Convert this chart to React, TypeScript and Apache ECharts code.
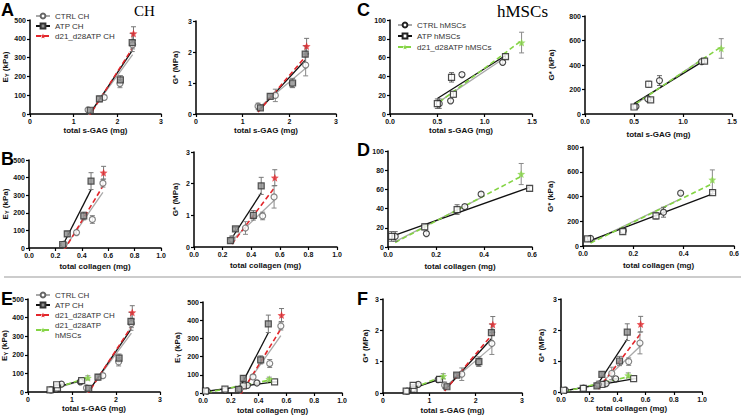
import React, { useEffect, useRef } from "react";
import * as echarts from "echarts";

// ---------- CH data ----------
const chCtrlSGAG = [1.33, 1.7, 2.06, 2.35];
const chAtpSGAG = [1.38, 1.59, 2.07, 2.34];
const chD21SGAG = [2.37];
const chCtrlColl = [0.265, 0.36, 0.48, 0.56];
const chAtpColl = [0.255, 0.29, 0.415, 0.47];
const chD21Coll = [0.565];
const chCtrlEY = [22, 88, 162, 368];
const chAtpEY = [20, 80, 182, 380];
const chD21EY = [428];
const chCtrlEYErr = [6, 12, 22, 22];
const chAtpEYErr = [5, 15, 22, 48];
const chD21EYErr = [36];
const chCtrlG = [0.25, 0.6, 0.98, 1.58];
const chAtpG = [0.2, 0.57, 1.0, 1.93];
const chD21G = [2.19];
const chCtrlGErr = [0.1, 0.2, 0.12, 0.35];
const chAtpGErr = [0.05, 0.05, 0.15, 0.27];
const chD21GErr = [0.25];

// ---------- hMSC data ----------
const msCtrlSGAG = [0.52, 0.64, 0.76, 1.19];
const msAtpSGAG = [0.5, 0.67, 0.65, 1.22];
const msD21SGAG = [1.36];
const msCtrlColl = [0.03, 0.16, 0.32, 0.388];
const msAtpColl = [0.018, 0.158, 0.29, 0.515];
const msD21Coll = [0.477];
const msCtrlEY = [11, 14, 42, 55];
const msAtpEY = [11, 21, 39, 61];
const msD21EY = [76];
const msCtrlEYErr = [5, 2, 2, 2];
const msAtpEYErr = [5, 3, 5, 2];
const msD21EYErr = [11];
const msCtrlG = [62, 124, 273, 427];
const msAtpG = [57, 116, 243, 432];
const msD21G = [535];
const msCtrlGErr = [10, 10, 40, 10];
const msAtpGErr = [10, 10, 25, 10];
const msD21GErr = [80];

// x positions as plotted in individual panels where they differ
const msD21SGAG_C = [1.39];
const msD21SGAG_F = [1.3];
const msAtpColl_Dleft = [0.015, 0.153, 0.288, 0.59];
const msD21Coll_Dleft = [0.555];
const msD21Coll_Dright = [0.514];

const FONT = "'Liberation Sans', Arial, sans-serif";
const SERIF = "'Liberation Serif', 'Times New Roman', serif";
const RED = "#e3262b";
const GREEN = "#84d444";
const STAR = "path://M0,-10L2.6,-3.6L9.5,-3.1L4.2,1.4L5.9,8.1L0,4.4L-5.9,8.1L-4.2,1.4L-9.5,-3.1L-2.6,-3.6Z";

const STYLES: Record<string, any> = {
  ctrlCH: { symbol: "circle", size: 6, item: { color: "#fff", borderColor: "#666", borderWidth: 1.2 }, line: { color: "#a9a9a9", width: 1.3, type: "solid" }, err: "#888" },
  atpCH: { symbol: "rect", size: 6, item: { color: "#8f8f8f", borderColor: "#333", borderWidth: 1.2 }, line: { color: "#111", width: 1.3, type: "solid" }, err: "#777" },
  d21CH: { symbol: STAR, size: 8, item: { color: RED }, line: { color: RED, width: 1.6, type: [5, 3] }, err: "#777" },
  ctrlMS: { symbol: "circle", size: 6, item: { color: "#fff", borderColor: "#222", borderWidth: 1.2 }, line: { color: "#a9a9a9", width: 1.3, type: "solid" }, err: "#666" },
  atpMS: { symbol: "rect", size: 6, item: { color: "#fff", borderColor: "#222", borderWidth: 1.2 }, line: { color: "#111", width: 1.3, type: "solid" }, err: "#666" },
  d21MS: { symbol: STAR, size: 8, item: { color: GREEN }, line: { color: GREEN, width: 1.6, type: [5, 3] }, err: "#888" },
};

const CH = {
  ctrl: { sgag: chCtrlSGAG, coll: chCtrlColl, ey: chCtrlEY, eyErr: chCtrlEYErr, g: chCtrlG, gErr: chCtrlGErr },
  atp: { sgag: chAtpSGAG, coll: chAtpColl, ey: chAtpEY, eyErr: chAtpEYErr, g: chAtpG, gErr: chAtpGErr },
  d21: { sgag: chD21SGAG, coll: chD21Coll, ey: chD21EY, eyErr: chD21EYErr, g: chD21G, gErr: chD21GErr },
};
const MS = {
  ctrl: { sgag: msCtrlSGAG, coll: msCtrlColl, ey: msCtrlEY, eyErr: msCtrlEYErr, g: msCtrlG, gErr: msCtrlGErr },
  atp: { sgag: msAtpSGAG, coll: msAtpColl, ey: msAtpEY, eyErr: msAtpEYErr, g: msAtpG, gErr: msAtpGErr },
  d21: { sgag: msD21SGAG, coll: msD21Coll, ey: msD21EY, eyErr: msD21EYErr, g: msD21G, gErr: msD21GErr },
};

function lsq(xs: number[], ys: number[]) {
  const n = xs.length;
  const mx = xs.reduce((a, b) => a + b, 0) / n;
  const my = ys.reduce((a, b) => a + b, 0) / n;
  let sxx = 0, sxy = 0;
  for (let i = 0; i < n; i++) { sxx += (xs[i] - mx) ** 2; sxy += (xs[i] - mx) * (ys[i] - my); }
  const b = sxy / sxx; const a = my - b * mx;
  const x0 = Math.min(...xs), x1 = Math.max(...xs);
  return [[x0, a + b * x0], [x1, a + b * x1]];
}

function groups(src: any, kind: "CH" | "MS", xKey: string, yKey: string, scale: number, xOver: Record<string, number[]> = {}) {
  const names = kind === "CH" ? ["CTRL CH", "ATP CH", "d21_d28ATP CH"] : ["CTRL hMSCs", "ATP hMSCs", "d21_d28ATP hMSCs"];
  const keys = ["ctrl", "atp", "d21"];
  const xOf = (k: string) => xOver[k] || src[k][xKey];
  return keys.map((k, i) => {
    const s = src[k];
    const xs = xOf(k);
    const ys = s[yKey].map((v: number) => v * scale);
    const errs = s[yKey + "Err"].map((v: number) => v * scale);
    let fx = xs, fy = ys;
    if (k === "d21") {
      fx = [...xOf("ctrl").slice(0, 3), ...xs];
      fy = [...src.ctrl[yKey].slice(0, 3).map((v: number) => v * scale), ...ys];
    }
    return { name: names[i], style: STYLES[k + kind], xs, ys, errs, fitXs: fx, fitYs: fy };
  });
}

const errRender = (color: string) => (params: any, api: any) => {
  const x = api.value(0), y = api.value(1), e = api.value(2);
  const t = api.coord([x, y + e]);
  const b = api.coord([x, y - e]);
  const w = 2.5;
  const st = { stroke: color, lineWidth: 1 };
  return {
    type: "group",
    children: [
      { type: "line", shape: { x1: t[0], y1: t[1], x2: b[0], y2: b[1] }, style: st },
      { type: "line", shape: { x1: t[0] - w, y1: t[1], x2: t[0] + w, y2: t[1] }, style: st },
      { type: "line", shape: { x1: b[0] - w, y1: b[1], x2: b[0] + w, y2: b[1] }, style: st },
    ],
  };
};

const EY_NAME = "{a|E}{s|Y}{a| (kPa)}";

const PANELS: any[] = [
  // A left
  { grid: [30, 20, 131, 94], x: [0, 3, 1, 0], y: [0, 500, 100], xName: "total s-GAG (mg)", yName: EY_NAME, xGap: 12, yGap: 20, groups: () => groups(CH, "CH", "sgag", "ey", 1) },
  // A right
  { grid: [196, 21, 140, 93], x: [0, 3, 1, 0], y: [0, 3, 1], xName: "total s-GAG (mg)", yName: "G* (MPa)", xGap: 12, yGap: 17, groups: () => groups(CH, "CH", "sgag", "g", 1) },
  // C left
  { grid: [390, 20, 142, 94], x: [0, 1.5, 0.5, 1], y: [0, 100, 20], xName: "total s-GAG (mg)", yName: "", xGap: 12, yGap: 12, groups: () => groups(MS, "MS", "sgag", "ey", 1, { d21: msD21SGAG_C }) },
  // C right
  { grid: [585, 16, 147, 98], x: [0, 1.5, 0.5, 1], y: [0, 800, 200], xName: "total s-GAG (mg)", yName: "G* (kPa)", xGap: 16, yGap: 30, groups: () => groups(MS, "MS", "sgag", "g", 1, { d21: msD21SGAG_C }) },
  // B left
  { grid: [29, 160, 132, 88], x: [0, 1, 0.2, 1], y: [0, 500, 100], xName: "total collagen (mg)", yName: EY_NAME, xGap: 14, yGap: 19, groups: () => groups(CH, "CH", "coll", "ey", 1) },
  // B right
  { grid: [194, 152, 143, 95], x: [0, 1, 0.2, 1], y: [0, 3, 1], xName: "total collagen (mg)", yName: "G* (MPa)", xGap: 14, yGap: 15, groups: () => groups(CH, "CH", "coll", "g", 1) },
  // D left
  { grid: [388, 151, 144, 96], x: [0, 0.6, 0.2, 1], y: [0, 100, 20], xName: "total collagen (mg)", yName: "", xGap: 15, yGap: 12, groups: () => groups(MS, "MS", "coll", "ey", 1, { atp: msAtpColl_Dleft, d21: msD21Coll_Dleft }) },
  // D right
  { grid: [583, 147, 151, 99], x: [0, 0.6, 0.2, 1], y: [0, 800, 200], xName: "total collagen (mg)", yName: "G* (kPa)", xGap: 15, yGap: 29, groups: () => groups(MS, "MS", "coll", "g", 1, { d21: msD21Coll_Dright }) },
  // E left
  { grid: [28, 299, 132, 93], x: [0, 3, 1, 0], y: [0, 500, 100], xName: "total s-GAG (mg)", yName: EY_NAME, xGap: 12, yGap: 19, groups: () => [...groups(MS, "MS", "sgag", "ey", 1), ...groups(CH, "CH", "sgag", "ey", 1)] },
  // E right
  { grid: [203, 302, 139, 91], x: [0, 1, 0.2, 1], y: [0, 500, 100], xName: "total collagen (mg)", yName: EY_NAME, xGap: 13, yGap: 21, groups: () => [...groups(MS, "MS", "coll", "ey", 1), ...groups(CH, "CH", "coll", "ey", 1)] },
  // F left
  { grid: [383, 299, 139, 94], x: [0, 3, 1, 0], y: [0, 3, 1], xName: "total s-GAG (mg)", yName: "G* (MPa)", xGap: 13, yGap: 14, groups: () => [...groups(MS, "MS", "sgag", "g", 0.001, { d21: msD21SGAG_F }), ...groups(CH, "CH", "sgag", "g", 1)] },
  // F right
  { grid: [561, 299, 141, 93], x: [0, 1, 0.2, 1], y: [0, 3, 1], xName: "total collagen (mg)", yName: "G* (MPa)", xGap: 12, yGap: 16, groups: () => [...groups(MS, "MS", "coll", "g", 0.001), ...groups(CH, "CH", "coll", "g", 1)] },
];

function buildOption() {
  const grid: any[] = [], xAxis: any[] = [], yAxis: any[] = [], series: any[] = [];
  const axisLine = { show: true, lineStyle: { color: "#000", width: 1.5 } };
  const axisTick = { show: true, length: 3, lineStyle: { color: "#000", width: 1.2 } };
  const labelBase = { fontSize: 7, fontWeight: "bold", color: "#111", fontFamily: FONT, margin: 4 };
  const nameStyle = {
    fontSize: 8, fontWeight: "bold", color: "#111", fontFamily: FONT,
    rich: {
      a: { fontSize: 8, fontWeight: "bold", color: "#111", fontFamily: FONT },
      s: { fontSize: 5.5, fontWeight: "bold", color: "#111", fontFamily: FONT, padding: [4, 0, 0, 0] },
    },
  };
  PANELS.forEach((p, gi) => {
    const [l, t, w, h] = p.grid;
    grid.push({ left: l, top: t, width: w, height: h, containLabel: false, outerBoundsMode: "none" });
    const dec = p.x[3];
    xAxis.push({
      gridIndex: gi, type: "value", min: p.x[0], max: p.x[1], interval: p.x[2],
      axisLine, axisTick, splitLine: { show: false },
      axisLabel: { ...labelBase, formatter: (v: number) => v.toFixed(dec) },
      name: p.xName, nameLocation: "middle", nameGap: p.xGap, nameMoveOverlap: false,
      nameTextStyle: { ...nameStyle, verticalAlign: "top" },
    });
    yAxis.push({
      gridIndex: gi, type: "value", min: p.y[0], max: p.y[1], interval: p.y[2],
      axisLine, axisTick, splitLine: { show: false },
      axisLabel: { ...labelBase },
      name: p.yName, nameLocation: "middle", nameRotate: 90, nameGap: p.yGap, nameMoveOverlap: false,
      nameTextStyle: nameStyle,
    });
    const gs = p.groups();
    gs.forEach((g: any) => {
      const st = g.style;
      series.push({
        type: "line", name: g.name, xAxisIndex: gi, yAxisIndex: gi,
        data: lsq(g.fitXs, g.fitYs), symbol: st.symbol, symbolSize: st.size, showSymbol: false,
        itemStyle: st.item, lineStyle: st.line, z: 2, silent: true, clip: true,
        emphasis: { disabled: true },
      });
    });
    gs.forEach((g: any) => {
      series.push({
        type: "custom", xAxisIndex: gi, yAxisIndex: gi, coordinateSystem: "cartesian2d",
        data: g.xs.map((x: number, i: number) => [x, g.ys[i], g.errs[i]]),
        encode: { x: 0, y: 1 }, renderItem: errRender(g.style.err), z: 3, silent: true, clip: true,
      });
    });
    gs.forEach((g: any) => {
      const st = g.style;
      series.push({
        type: "scatter", xAxisIndex: gi, yAxisIndex: gi,
        data: g.xs.map((x: number, i: number) => [x, g.ys[i]]),
        symbol: st.symbol, symbolSize: st.size, itemStyle: st.item, z: 4, silent: true,
      });
    });
  });

  const legendBase = {
    orient: "vertical", itemGap: 0, itemWidth: 14, itemHeight: 6, padding: 0,
    textStyle: { fontSize: 8, color: "#333", fontFamily: FONT, lineHeight: 10 },
    selectedMode: false,
  };
  const legend = [
    { ...legendBase, left: 35, top: 11, data: ["CTRL CH", "ATP CH", "d21_d28ATP CH"] },
    { ...legendBase, left: 397, top: 20, itemGap: 1, data: ["CTRL hMSCs", "ATP hMSCs", "d21_d28ATP hMSCs"] },
    {
      ...legendBase, left: 35, top: 290, data: ["CTRL CH", "ATP CH", "d21_d28ATP CH", "d21_d28ATP hMSCs"],
      formatter: (n: string) => (n === "d21_d28ATP hMSCs" ? "d21_d28ATP\nhMSCs" : n),
    },
  ];

  const letter = (txt: string, x: number, y: number) => ({
    type: "text", x, y, style: { text: txt, fontSize: 18, fontWeight: "bold", fontFamily: FONT, fill: "#000", textVerticalAlign: "top" },
  });
  const graphic = [
    letter("A", 1, 1), letter("B", 1, 150), letter("C", 357, 1),
    letter("D", 357, 141), letter("E", 1, 290), letter("F", 357, 290),
    { type: "text", x: 134, y: 3, style: { text: "CH", fontSize: 15, fontFamily: SERIF, fill: "#000", textVerticalAlign: "top" } },
    { type: "text", x: 497, y: 3, style: { text: "hMSCs", fontSize: 17, fontFamily: SERIF, fill: "#000", textVerticalAlign: "top" } },
    { type: "line", shape: { x1: 4, y1: 277, x2: 741, y2: 277 }, style: { stroke: "#999", lineWidth: 1 } },
  ];

  return { animation: false, textStyle: { fontFamily: FONT }, grid, xAxis, yAxis, series, legend, graphic };
}

export default function App() {
  const ref = useRef<HTMLDivElement>(null);
  useEffect(() => {
    if (!ref.current) return;
    const chart = echarts.init(ref.current, undefined, { renderer: "svg" });
    chart.setOption(buildOption() as any);
    return () => chart.dispose();
  }, []);
  return (
    <div
      ref={ref}
      style={{ position: "absolute", left: 0, top: 0, width: 741, height: 417, background: "#fff" }}
    />
  );
}
